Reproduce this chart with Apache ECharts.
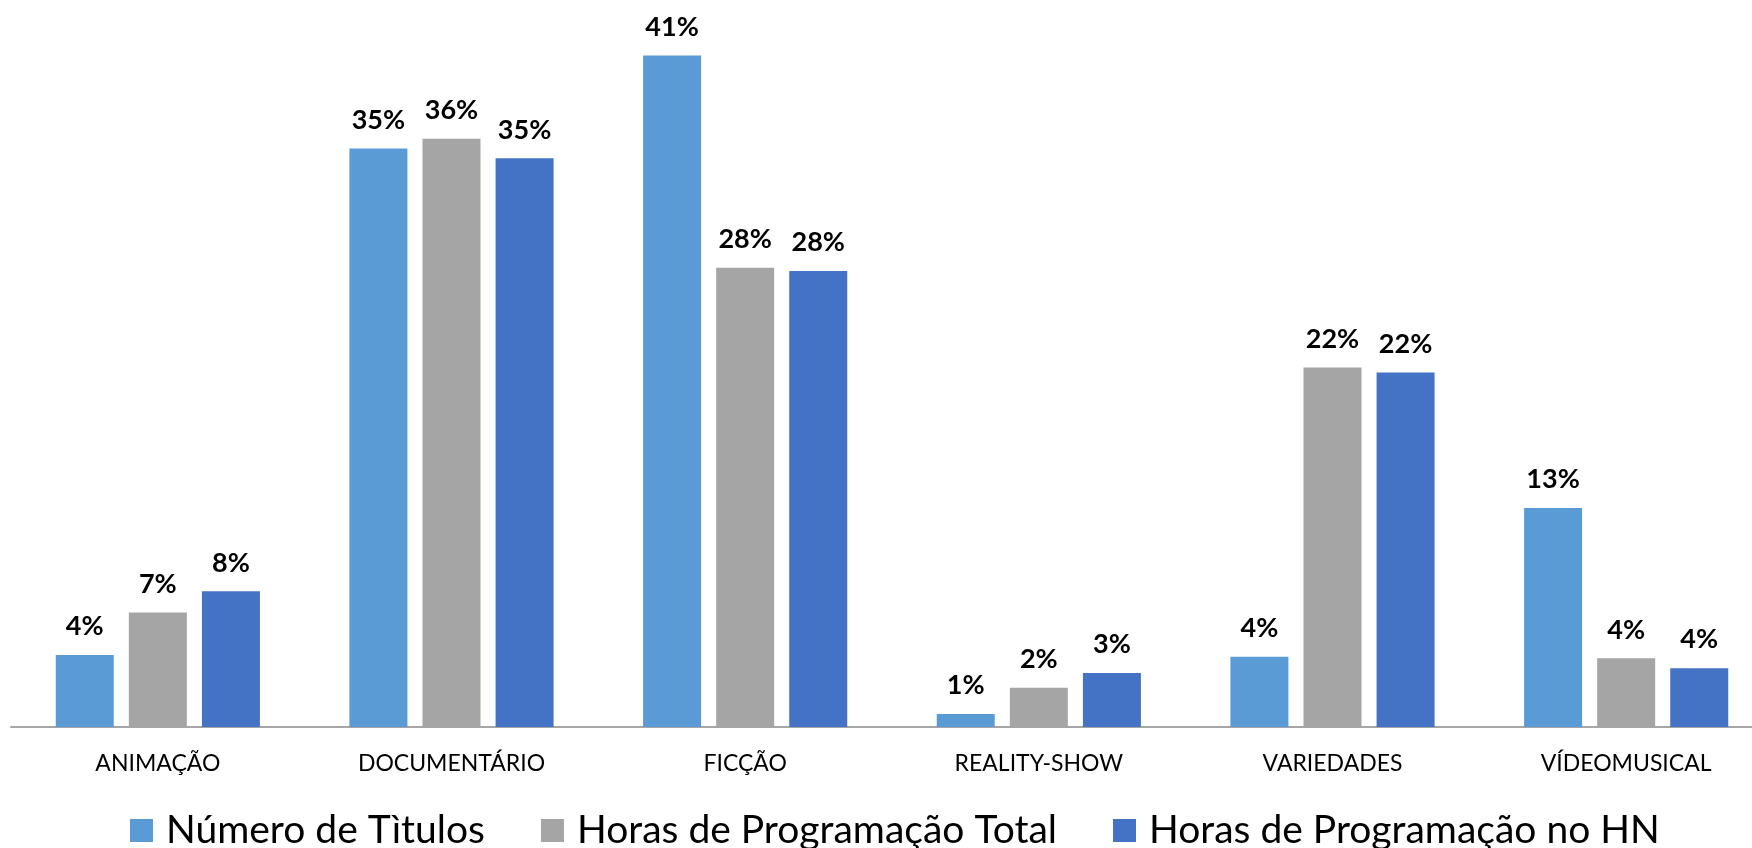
<!DOCTYPE html>
<html>
<head>
<meta charset="utf-8">
<title>Gêneros</title>
<script src="https://cdn.jsdelivr.net/npm/echarts@6/dist/echarts.min.js"></script>
<style>
  html, body { margin: 0; padding: 0; background: #fff; overflow: hidden; }
  /* mais largo que a janela: a área do gráfico continua além da borda direita */
  #chart { width: 1784px; height: 848px; }
</style>
</head>
<body>
<div id="chart"></div>
<script>
// categorias e valores (%)
const categorias = ["ANIMAÇÃO", "DOCUMENTÁRIO", "FICÇÃO", "REALITY-SHOW", "VARIEDADES", "VÍDEOMUSICAL"];
const numeroTitulos = [4.4, 35.4, 41.1, 0.8, 4.3, 13.4];
const horasTotal = [7.0, 36.0, 28.1, 2.4, 22.0, 4.2];
const horasHN = [8.3, 34.8, 27.9, 3.3, 21.7, 3.6];

const nomes = ["Número de Tìtulos", "Horas de Programação Total", "Horas de Programação no HN"];
const cores = ["#5B9BD5", "#A5A5A5", "#4472C4"];

const chart = echarts.init(document.getElementById("chart"));

const rotulo = {
  show: true,
  position: "top",
  distance: 15,
  color: "#000",
  fontFamily: "Lato",
  fontWeight: "bold",
  fontSize: 27,
  formatter: p => Math.round(p.value) + "%"
};

function serie(nome, dados, cor) {
  return {
    name: nome,
    type: "bar",
    data: dados,
    barWidth: 58,
    barGap: "26%",
    itemStyle: { color: cor },
    label: rotulo
  };
}

chart.setOption({
  animation: false,
  color: cores,
  grid: { left: 11, right: 11, top: 8, bottom: 121 },
  legend: {
    left: 125,
    top: 806,
    icon: "rect",
    itemWidth: 23,
    itemHeight: 23,
    itemGap: 56,
    textStyle: {
      fontFamily: "Lato",
      fontSize: 39,
      color: "#000",
      padding: [0, 0, 0, 8]
    },
    data: nomes
  },
  xAxis: {
    type: "category",
    data: categorias,
    axisLine: { lineStyle: { color: "#A6A6A6", width: 2 } },
    axisTick: { show: false },
    axisLabel: {
      margin: 25,
      color: "#000",
      fontFamily: "Lato",
      fontSize: 23
    }
  },
  yAxis: {
    type: "value",
    show: false,
    min: 0,
    max: 44,
    splitLine: { show: false }
  },
  series: [
    serie(nomes[0], numeroTitulos, cores[0]),
    serie(nomes[1], horasTotal, cores[1]),
    serie(nomes[2], horasHN, cores[2])
  ]
});
</script>
</body>
</html>
